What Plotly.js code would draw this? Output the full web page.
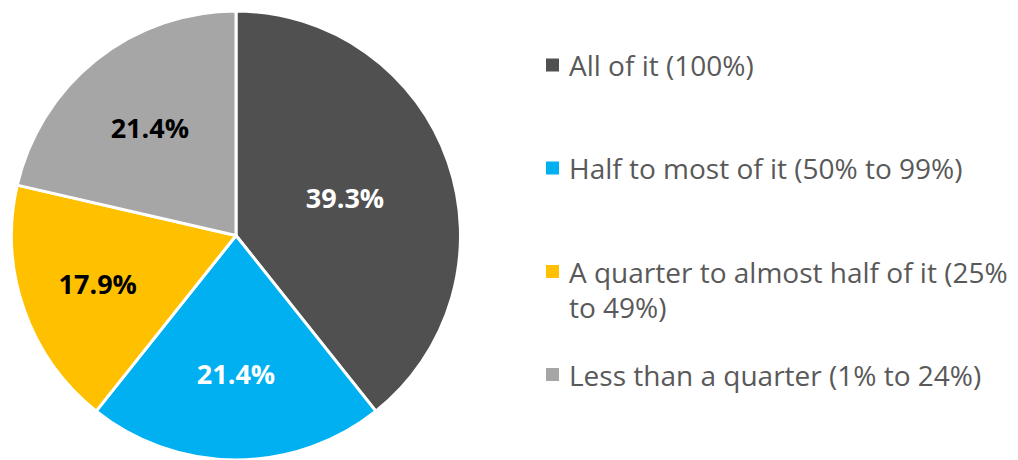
<!DOCTYPE html>
<html><head><meta charset="utf-8">
<script src="https://cdn.plot.ly/plotly-3.0.1.min.js"></script>
<style>html,body{margin:0;padding:0;background:#fff}#chart{width:1018px;height:460px}</style>
</head><body><div id="chart"></div>
<script>
const categories = ["All of it (100%)", "Half to most of it (50% to 99%)", "A quarter to almost half of it (25%<br>to 49%)", "Less than a quarter (1% to 24%)"];
const values = [39.3, 21.4, 17.9, 21.4];
const colors = ["#505050", "#00B0F0", "#FFC000", "#A6A6A6"];
const labelColors = ["#FFFFFF", "#FFFFFF", "#000000", "#000000"];
const legendRowY = [65, 168, 271.5, 374.5];

const W = 1018, H = 460;
const FONT = "Open Sans, sans-serif";

const trace = {
  type: "pie",
  labels: categories,
  values: values,
  sort: false,
  direction: "clockwise",
  rotation: 0,
  marker: {colors: colors, line: {color: "#FFFFFF", width: 3}},
  texttemplate: "%{value:.1f}%",
  textposition: "inside",
  insidetextorientation: "horizontal",
  textfont: {family: FONT, size: 27, color: labelColors, weight: "bold"},
  domain: {x: [11 / W, 461 / W], y: [0, 1 - 11 / H]},
  showlegend: false,
  hoverinfo: "label+value"
};

const annotations = [];
const shapes = [];
categories.forEach((c, i) => {
  const lines = c.split("<br>");
  lines.forEach((ln, j) => {
    annotations.push({
      xref: "paper", yref: "paper",
      x: 567 / W, y: 1 - (legendRowY[i] + j * 35) / H,
      xanchor: "left", yanchor: "middle",
      text: ln, showarrow: false,
      font: {family: FONT, size: 28, color: "#595959"}
    });
  });
  shapes.push({
    type: "rect", xref: "paper", yref: "paper",
    xsizemode: "pixel", ysizemode: "pixel",
    xanchor: 552.5 / W, yanchor: 1 - legendRowY[i] / H,
    x0: -6.5, x1: 6.5, y0: -6.5, y1: 6.5,
    fillcolor: colors[i], line: {width: 0}
  });
});

const layout = {
  width: W, height: H,
  margin: {l: 0, r: 0, t: 0, b: 0},
  paper_bgcolor: "#FFFFFF",
  showlegend: false,
  annotations: annotations,
  shapes: shapes
};

Plotly.newPlot("chart", [trace], layout, {displayModeBar: false, staticPlot: true});
</script>
</body></html>
